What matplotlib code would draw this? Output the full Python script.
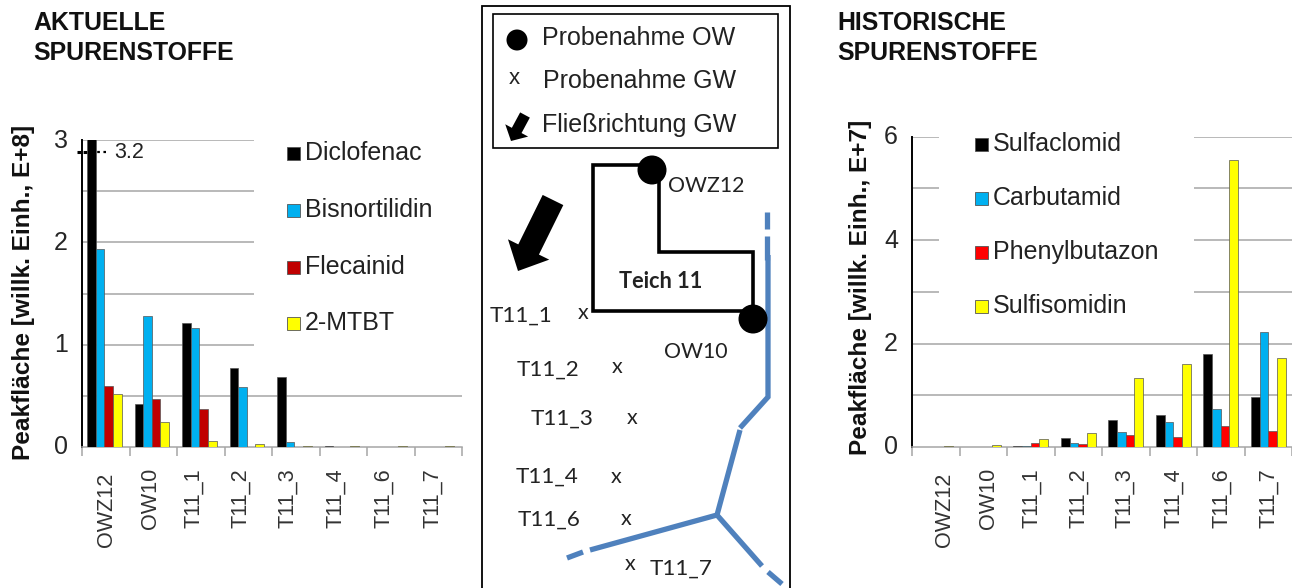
import matplotlib
matplotlib.use("Agg")
import matplotlib.pyplot as plt
from matplotlib.patches import Rectangle, Circle, Polygon
from matplotlib.transforms import ScaledTranslation
import numpy as np

categories = ["OWZ12", "OW10", "T11_1", "T11_2", "T11_3", "T11_4", "T11_6", "T11_7"]

diclofenac = [3.2, 0.42, 1.21, 0.77, 0.685, 0.006, 0.004, 0.0]
bisnortilidin = [1.93, 1.28, 1.165, 0.585, 0.052, 0.0, 0.0, 0.0]
flecainid = [0.60, 0.466, 0.37, 0.0, 0.0, 0.0, 0.0, 0.0]
mtbt = [0.52, 0.245, 0.062, 0.03, 0.008, 0.006, 0.006, 0.006]
left_names = ["Diclofenac", "Bisnortilidin", "Flecainid", "2-MTBT"]
left_colors = ["#000000", "#00B0F0", "#C00000", "#FFFF00"]

sulfaclomid = [0.0, 0.0, 0.025, 0.17, 0.515, 0.61, 1.79, 0.97]
carbutamid = [0.0, 0.0, 0.01, 0.085, 0.285, 0.49, 0.74, 2.22]
phenylbutazon = [0.0, 0.0, 0.07, 0.05, 0.23, 0.19, 0.41, 0.30]
sulfisomidin = [0.01, 0.035, 0.16, 0.265, 1.33, 1.60, 5.55, 1.73]
right_names = ["Sulfaclomid", "Carbutamid", "Phenylbutazon", "Sulfisomidin"]
right_colors = ["#000000", "#00B0F0", "#FF0000", "#FFFF00"]

W, H = 1292, 588
SANS = "Liberation Sans"
CAL = "Lato"
GRID = "#A6A6A6"
plt.rcParams["font.family"] = SANS
fig = plt.figure(figsize=(W / 100, H / 100), dpi=100, facecolor="white")


def make_axes(x0, x1, ytop, ybot):
    return fig.add_axes([x0 / W, 1 - ybot / H, (x1 - x0) / W, (ybot - ytop) / H])


def bar_panel(ax, series, colors, ymax, major, grid_vals, grid_spans, shift, lab_dx):
    x = np.arange(len(categories)) + 0.5 + shift
    w = 0.182
    for g, spans in zip(grid_vals, grid_spans):
        for a, b in spans:
            ax.hlines(g, a, b, color=GRID, lw=1.1, zorder=1)
    for k, (vals, c) in enumerate(zip(series, colors)):
        ax.bar(x + (k - 1.5) * w, vals, w, color=c, edgecolor="#555555", lw=0.5, zorder=3)
    ax.set_xlim(0, 8)
    ax.set_ylim(0, ymax)
    ax.set_xticks(np.arange(9))
    ax.set_xticklabels([])
    ax.tick_params(axis="x", length=6.5, width=1.1, color=GRID)
    ax.set_yticks(major)
    ax.set_yticklabels([str(v) for v in major], fontsize=18, color="#262626")
    ax.tick_params(axis="y", length=0, pad=10)
    up = ScaledTranslation(0, 2 / 100, fig.dpi_scale_trans)
    for lab in ax.get_yticklabels():
        lab.set_transform(lab.get_transform() + up)
    for i, c in enumerate(categories):
        top = -26 if c == "OWZ12" else -21
        ax.annotate(c, (i + 0.5, 0), xytext=(lab_dx[i], top), xycoords=("data", "axes fraction"),
                    textcoords="offset pixels",
                    rotation=90, ha="center", va="top", fontsize=15.6, color="#333333")
    for s in ["top", "right"]:
        ax.spines[s].set_visible(False)
    ax.spines["left"].set_linewidth(1.4)
    ax.spines["left"].set_color("black")
    ax.spines["bottom"].set_color(GRID)
    ax.spines["bottom"].set_linewidth(1.1)
    ax.patch.set_alpha(0)


# left panel
axl = make_axes(82, 462, 140, 447)
f = (254 - 82) / 380 * 8
bar_panel(axl, [diclofenac, bisnortilidin, flecainid, mtbt], left_colors, 3, [0, 1, 2, 3],
          [0.5, 1, 1.5, 2, 2.5, 3],
          [[(0, 8)], [(0, f)], [(0, f)], [(0, f)], [(0, f)], [(0, f)]], -0.03,
          [1, -3, -7, -8, -8, -8, -7, -6])

# right panel
axr = make_axes(912, 1292, 136.7, 447)
a = (939 - 912) / 380 * 8
b = (1194 - 912) / 380 * 8
split = [(0, a), (b, 8)]
bar_panel(axr, [sulfaclomid, carbutamid, phenylbutazon, sulfisomidin], right_colors, 6, [0, 2, 4, 6],
          [1, 2, 3, 4, 5, 6], [[(0, 8)], [(0, 8)], split, split, split, split], 0.0,
          [9, 5, 1, 0, -1, 0, 1, 0])

# overlay in pixel coordinates
ov = fig.add_axes([0, 0, 1, 1], zorder=10)
ov.set_xlim(0, W)
ov.set_ylim(H, 0)
ov.axis("off")

# titles and axis titles
for x, t1 in [(33, "AKTUELLE"), (837, "HISTORISCHE")]:
    ov.text(x, 23, t1, fontsize=17.9, fontweight="bold", va="center", color="#111111")
    ov.text(x, 53, "SPURENSTOFFE", fontsize=17.9, fontweight="bold", va="center", color="#111111")
ov.text(24, 292, "Peakfläche [willk. Einh., E+8]", rotation=90, fontsize=17.6, fontweight="bold",
        ha="center", va="center", color="#111111")
ov.text(860, 287, "Peakfläche [willk. Einh., E+7]", rotation=90, fontsize=17.6, fontweight="bold",
        ha="center", va="center", color="#111111")

# axis-break annotation
ov.plot([77, 91], [152, 152], color="black", lw=2.2, ls=(0, (1.2, 0.8)), zorder=6)
ov.plot([91, 106], [152, 152], color="black", lw=1.6, ls=(0, (1.2, 1.6)), zorder=6)
ov.text(114, 152, "3.2", fontsize=15.5, va="center", color="#222222")

# legends
def legend(names, colors, x, ys):
    for n, c, y in zip(names, colors, ys):
        ov.add_patch(Rectangle((x, y - 6.5), 13, 13, fc=c, ec="#555555", lw=0.6))
        ov.text(x + 18, y, n, fontsize=18, va="center", color="#222222")


legend(left_names, left_colors, 287, [153, 210, 267, 323])
legend(right_names, right_colors, 975, [144, 198, 252, 306])

# central schematic
ov.add_patch(Rectangle((482, 6), 308, 600, fc="white", ec="black", lw=1.3))
ov.add_patch(Rectangle((493, 14), 285, 134, fc="white", ec="black", lw=1.2))
ov.add_patch(Circle((517, 40), 10.5, fc="black", ec="none"))
ov.text(542, 38, "Probenahme OW", fontsize=18, va="center", color="#222222")
ov.text(514, 79, "x", fontsize=16, va="center", ha="center", color="#222222")
ov.text(543, 81, "Probenahme GW", fontsize=18, va="center", color="#222222")
ov.text(542, 125, "Fließrichtung GW", fontsize=18, va="center", color="#222222")


def arrow(tail, tip, shaft, head, headlen):
    p0, p1 = np.array(tail, float), np.array(tip, float)
    d = (p1 - p0) / np.hypot(*(p1 - p0))
    n = np.array([-d[1], d[0]])
    base = p1 - d * headlen
    ov.add_patch(Polygon([p0 + n * shaft, base + n * shaft, base + n * head, p1, base - n * head,
                          base - n * shaft, p0 - n * shaft], fc="black", ec="none"))


arrow((525, 115), (511, 141), 5.5, 13, 12)
arrow((553, 200), (518, 271), 11.5, 23, 24)

pond_a_x, pond_a_y = [652, 593, 593, 753], [165, 165, 311, 311]
pond_b_x, pond_b_y = [659, 659, 753, 753], [170, 252, 252, 315]
ov.plot(pond_a_x, pond_a_y, color="black", lw=2.6, solid_joinstyle="miter")
ov.plot(pond_b_x, pond_b_y, color="black", lw=2.6, solid_joinstyle="miter")

BLUE = "#4F81BD"
streams = [
    ([767, 767], [212, 229]),
    ([767, 767], [236, 260]),
    ([768, 768, 740], [255, 397, 428]),
    ([740, 717, 590], [430, 515, 550]),
    ([583, 567], [552, 558]),
    ([717, 762], [515, 566]),
    ([768, 782], [572, 584]),
]
for sx, sy in streams:
    ov.plot(sx, sy, color=BLUE, lw=3.8, solid_capstyle="butt", solid_joinstyle="miter", zorder=2)

ov.add_patch(Circle((652, 170), 14.5, fc="black", ec="none", zorder=3))
ov.add_patch(Circle((753, 319), 14.5, fc="black", ec="none", zorder=3))

ov.text(668, 186, "OWZ12", fontsize=15.3, va="center", family=CAL, color="#222222")
ov.text(664, 352, "OW10", fontsize=15.3, va="center", family=CAL, color="#222222")
ov.text(619, 281, "Teich 11", fontsize=15.7, va="center", family=CAL, fontweight="bold", color="#222222")

well_names = ["T11_1", "T11_2", "T11_3", "T11_4", "T11_6", "T11_7"]
well_lx = [490, 517, 531, 516, 518, 650]
well_ly = [316, 370, 419, 477, 520, 569]
well_mx = [583, 617, 632, 616, 626, 630]
well_my = [314, 368, 419, 478, 520, 565]
for n, lx, ly, mx, my in zip(well_names, well_lx, well_ly, well_mx, well_my):
    ov.text(lx, ly, n, fontsize=16.2, va="center", family=CAL, color="#222222")
    ov.text(mx, my - 1, "x", fontsize=15.5, va="center", ha="center", family=CAL, color="#222222")

fig.savefig("out.png", dpi=100, facecolor="white")
